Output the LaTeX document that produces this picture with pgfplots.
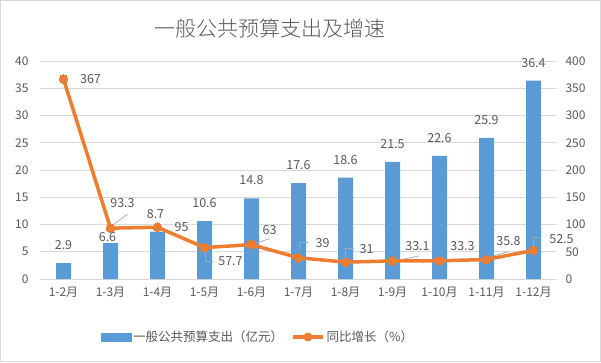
\documentclass[border=0pt]{standalone}
\usepackage{fontspec}
\setmainfont{Noto Sans CJK SC}
\newfontfamily\titlefont{Noto Sans CJK SC Light}
\usepackage{pgfplots}
\usepackage{pgfplotstable}
\pgfplotsset{compat=1.18}
\pgfplotsset{/pgf/number format/assume math mode=true}
\definecolor{barblue}{HTML}{5B9BD5}
\definecolor{lineorange}{HTML}{ED7D31}
\definecolor{txtgray}{HTML}{595959}
\definecolor{gridgray}{HTML}{D9D9D9}
\definecolor{leadgray}{HTML}{A6A6A6}

\pgfplotstableread{
x y dx dy
0 2.9 0 18
1 6.6 -3 6
2 8.7 -2 18
3 10.6 0 18
4 14.8 0 18
5 17.6 0 18
6 18.6 0 18
7 21.5 0 18
8 22.6 0 18
9 25.9 0 18
10 36.4 0 18
}\bardata

\pgfplotstableread{
x y dx dy
0 367 27 0
1 93.3 12 25
2 95 24 0
3 57.7 26 -14
4 63 18 15
5 39 24 15
6 31 21 13
7 33.1 25 15
8 33.3 23 15
9 35.8 22 18
10 52.5 28 11
}\linedata

\begin{document}
\begin{tikzpicture}
\draw[gridgray, line width=1pt] (0.5pt,0.5pt) rectangle (600.5pt,361.5pt);
\node[text=txtgray, font=\titlefont\fontsize{21}{24}\selectfont] at (270pt,333pt) {一般公共预算支出及增速};
\begin{axis}[
  at={(40pt,83pt)}, anchor=south west,
  width=517pt, height=218pt, scale only axis,
  clip=false,
  xmin=-0.5, xmax=10.5, ymin=0, ymax=40,
  ytick={0,5,...,40},
  xtick={0,...,10},
  xticklabels={1-2月,1-3月,1-4月,1-5月,1-6月,1-7月,1-8月,1-9月,1-10月,1-11月,1-12月},
  axis line style={draw=none},
  major tick length=0pt,
  ymajorgrids, grid style={gridgray, line width=0.8pt},
  tick label style={font=\fontsize{12}{14}\selectfont, text=txtgray},
  yticklabel style={xshift=-8pt},
  xticklabel style={yshift=-5pt},
  ybar, bar width=15pt,
]
\addplot[fill=barblue, draw=none,
  nodes near coords,
  visualization depends on={\thisrow{dx} \as \dx},
  visualization depends on={\thisrow{dy} \as \dy},
  nodes near coords style={anchor=center, xshift=\dx pt, yshift=\dy pt,
    font=\fontsize{12.5}{14}\selectfont, text=txtgray},
] table[x=x, y=y] {\bardata};
\end{axis}
\begin{axis}[
  at={(40pt,83pt)}, anchor=south west,
  width=517pt, height=218pt, scale only axis,
  clip=false,
  xmin=-0.5, xmax=10.5, ymin=0, ymax=400,
  ytick={0,50,...,400},
  axis y line*=right,
  axis x line=none,
  axis line style={draw=none},
  major tick length=0pt,
  tick label style={font=\fontsize{12}{14}\selectfont, text=txtgray},
  yticklabel style={xshift=5pt},
  legend columns=2,
  legend style={at={(0.4217,-0.266)}, anchor=center, draw=none, fill=none,
    font=\fontsize{12.5}{15}\selectfont, text=txtgray,
    /tikz/every even column/.append style={column sep=6pt}},
]
\addlegendimage{legend image code/.code={\fill[barblue] (0pt,-4pt) rectangle (30pt,4pt);}}
\addlegendentry{一般公共预算支出（亿元）}
\addlegendimage{legend image code/.code={\draw[lineorange, line width=3.5pt] (0pt,0pt) -- (30pt,0pt); \fill[lineorange] (15pt,0pt) circle (4.2pt);}}
\addlegendentry{同比增长（\%）}
% leader lines
\draw[leadgray, line width=0.7pt] (axis cs:1,93.3) ++(2pt,3pt) -- ++(15pt,11pt);
\draw[leadgray, line width=0.7pt] (axis cs:3,57.7) ++(1pt,-3pt) -- ++(0pt,-11pt) -- ++(7pt,0pt);
\draw[leadgray, line width=0.7pt] (axis cs:4,63) ++(3pt,1pt) -- ++(15pt,5pt);
\draw[leadgray, line width=0.7pt] (axis cs:5,39) ++(1pt,8pt) -- ++(0pt,7pt) -- ++(8pt,0pt);
\draw[leadgray, line width=0.7pt] (axis cs:6,31) ++(0pt,4pt) -- ++(0pt,10pt) -- ++(8pt,0pt);
\draw[leadgray, line width=0.7pt] (axis cs:7,33.1) ++(3pt,0pt) -- ++(23pt,5pt);
\draw[leadgray, line width=0.7pt] (axis cs:9,35.8) ++(2pt,2pt) -- ++(20pt,6pt);
\draw[leadgray, line width=0.7pt] (axis cs:10,52.5) ++(0pt,4pt) -- ++(0pt,9pt) -- ++(6pt,0pt);
\addplot[lineorange, line width=3.5pt, line join=round, mark=*, mark size=4.3pt,
  mark options={fill=lineorange, draw=lineorange, line width=0pt},
  nodes near coords,
  visualization depends on={\thisrow{dx} \as \dx},
  visualization depends on={\thisrow{dy} \as \dy},
  nodes near coords style={anchor=center, xshift=\dx pt, yshift=\dy pt,
    font=\fontsize{12.5}{14}\selectfont, text=txtgray},
  forget plot,
] table[x=x, y=y] {\linedata};
\end{axis}
\end{tikzpicture}
\end{document}
